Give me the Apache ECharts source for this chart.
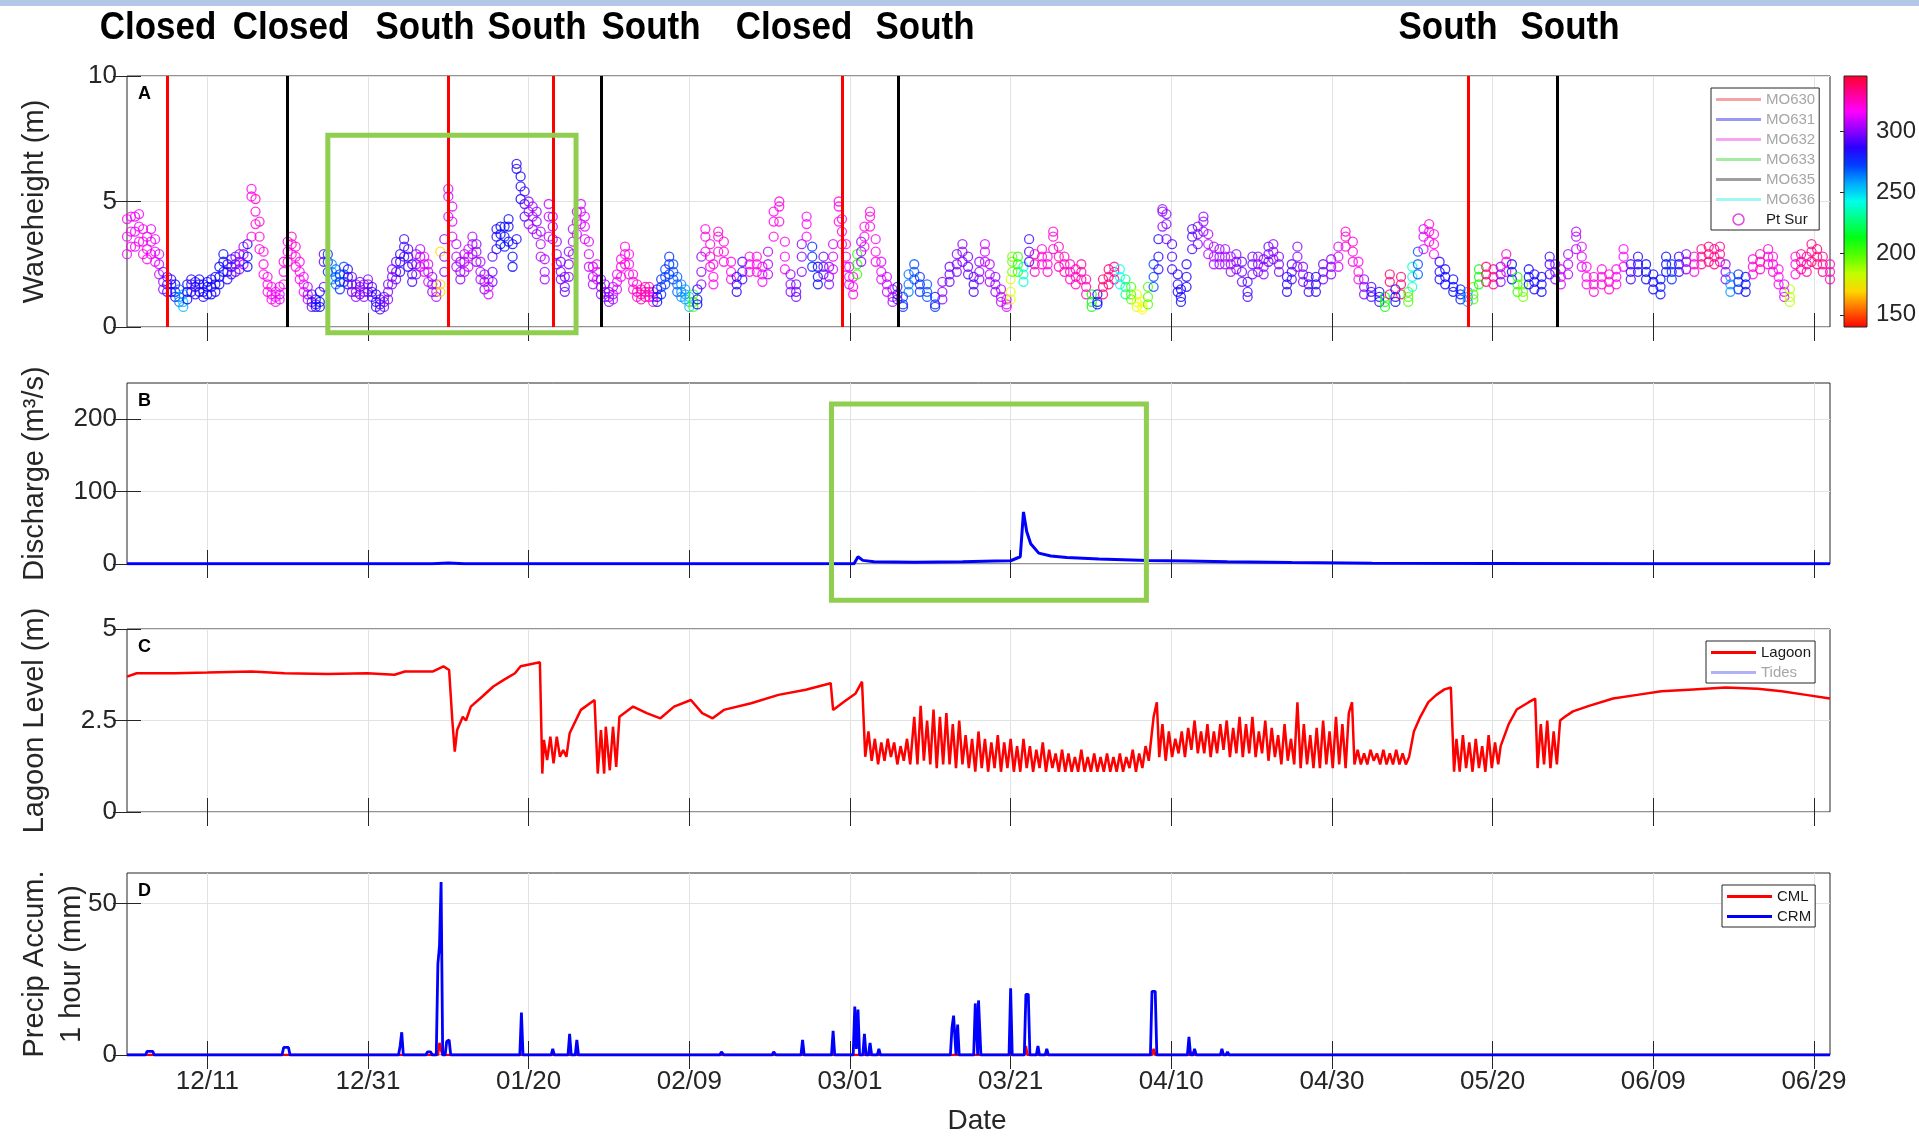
<!DOCTYPE html>
<html>
<head>
<meta charset="utf-8">
<script src="https://cdn.jsdelivr.net/npm/echarts@6/dist/echarts.min.js"></script>
<style>
html,body{margin:0;padding:0;background:#fff;}
#chart{width:1919px;height:1136px;}
</style>
</head>
<body>
<div id="chart"></div>
<script>
// x values are days since 2016-12-01
const xTickDays = [10, 30, 50, 70, 90, 110, 130, 150, 170, 190, 210];
const xTickLabels = ['12/11', '12/31', '01/20', '02/09', '03/01', '03/21', '04/10', '04/30', '05/20', '06/09', '06/29'];
const yTicksWave = [0, 5, 10];
const yTicksDischarge = [0, 100, 200];
const yTicksLagoon = [0, 2.5, 5];
const yTicksPrecip = [0, 50];
const dirTicks = [150, 200, 250, 300];

// Mouth state events (day, line colour key) and the state labels written above panel A
const eventDays = [5, 20, 40, 53, 59, 89, 96, 167, 178];
const eventKinds = ['red', 'black', 'red', 'red', 'black', 'red', 'black', 'red', 'black'];
const stateLabels = ['Closed', 'Closed', 'South', 'South', 'South', 'Closed', 'South', 'South', 'South'];

// Highlighted periods: [day from, day to, value low, value high]
const boxWave = [25.0, 55.9, -0.23, 7.64];
const boxDischarge = [87.7, 126.9, -50, 221];

// Pt Sur buoy, per time step: [day, low, typical, high wave height (m), direction (deg)]
const waveObs = [
[0,2.9,3.6,4.3,315],[0.5,3.2,3.8,4.4,318],[1,3.2,3.8,4.4,312],[1.5,3.4,4.0,4.5,315],[2,2.9,3.4,3.9,318],
[2.5,2.7,3.1,3.6,320],[3,2.9,3.4,3.9,312],[3.5,2.6,3.0,3.5,315],[4,2.1,2.5,2.9,310],[4.5,1.5,1.8,2.2,300],
[5,1.4,1.7,2.0,290],[5.5,1.4,1.7,1.9,285],[6,1.2,1.4,1.7,280],[6.5,1.0,1.2,1.5,265],[7,0.8,1.0,1.3,255],
[7.5,1.1,1.4,1.7,280],[8,1.4,1.7,1.9,285],[8.5,1.3,1.6,1.8,290],[9,1.4,1.7,1.9,280],[9.5,1.2,1.4,1.7,285],
[10,1.3,1.6,1.8,280],[10.5,1.3,1.6,1.9,282],[11,1.4,1.7,2.0,285],[11.5,1.7,2.0,2.4,280],[12,2.2,2.6,2.9,278],
[12.5,1.9,2.2,2.5,285],[13,2.1,2.4,2.7,290],[13.5,2.2,2.5,2.8,295],[14,2.3,2.6,2.9,300],[14.5,2.5,2.9,3.2,305],
[15,2.4,2.8,3.3,280],[15.5,3.6,5.2,5.5,318],[16,4.1,4.6,5.1,320],[16.5,3.1,3.6,4.2,322],[17,2.1,2.5,3.0,318],
[17.5,1.4,1.7,2.0,320],[18,1.1,1.3,1.6,318],[18.5,1.0,1.2,1.4,315],[19,1.1,1.3,1.6,312],[19.5,1.7,2.2,2.6,318],
[20,2.6,3.0,3.4,320],[20.5,2.9,3.3,3.6,322],[21,2.4,2.8,3.2,320],[21.5,1.9,2.2,2.6,318],[22,1.4,1.7,2.0,315],
[22.5,1.1,1.3,1.6,305],[23,0.8,1.0,1.3,295],[23.5,0.8,0.9,1.1,285],[24,0.8,1.0,1.4,280],[24.5,1.6,2.6,2.9,295],
[25,2.2,2.6,2.9,275],[25.5,1.9,2.2,2.5,260],[26,1.7,2.0,2.3,265],[26.5,1.5,1.8,2.1,275],[27,1.8,2.1,2.4,270],
[27.5,1.7,2.0,2.3,285],[28,1.4,1.7,2.0,295],[28.5,1.2,1.4,1.7,300],[29,1.3,1.6,1.8,295],[29.5,1.2,1.4,1.7,300],
[30,1.4,1.7,1.9,300],[30.5,1.2,1.4,1.6,290],[31,0.8,1.0,1.3,285],[31.5,0.7,0.9,1.1,290],[32,0.8,1.0,1.2,295],
[32.5,1.1,1.4,1.7,298],[33,1.7,2.0,2.3,300],[33.5,1.9,2.2,2.6,295],[34,2.2,2.6,2.9,285],[34.5,2.8,3.2,3.5,290],
[35,2.4,2.8,3.1,290],[35.5,1.8,2.1,2.5,288],[36,2.1,2.5,2.9,300],[36.5,2.4,2.8,3.1,305],[37,2.2,2.5,2.8,315],
[37.5,1.8,2.2,2.5,310],[38,1.4,1.7,2.0,300],[38.5,1.2,1.4,1.7,305],[39,1.4,1.7,3.0,170],[39.5,2.2,2.8,3.5,300],
[40,4.4,5.2,5.5,310],[40.5,3.6,4.2,4.8,312],[41,2.4,2.8,3.3,305],[41.5,1.9,2.2,2.6,300],[42,2.2,2.6,2.9,305],
[42.5,2.4,2.8,3.1,310],[43,2.9,3.3,3.6,305],[43.5,2.6,3.0,3.3,300],[44,1.9,2.2,2.6,305],[44.5,1.5,1.8,2.1,300],
[45,1.3,1.6,1.9,310],[45.5,1.8,2.2,2.8,295],[46,3.1,3.6,3.9,285],[46.5,3.3,3.7,4.0,280],[47,3.2,3.6,4.0,278],
[47.5,3.4,4.0,4.3,282],[48,2.4,2.8,3.3,280],[48.5,3.5,6.3,6.5,285],[49,5.1,5.6,6.0,282],[49.5,4.4,4.9,5.4,290],
[50,4.1,4.6,5.0,300],[50.5,3.9,4.4,4.8,305],[51,3.7,4.2,4.6,300],[51.5,2.8,3.3,3.8,305],[52,1.9,2.2,2.7,305],
[52.5,3.6,4.4,4.9,308],[53,3.5,4.0,4.4,305],[53.5,2.5,2.9,3.4,300],[54,1.9,2.2,2.6,298],[54.5,1.4,1.6,2.0,295],
[55,2.0,2.5,3.0,300],[55.5,2.9,3.4,3.9,305],[56,3.7,4.2,4.6,308],[56.5,4.1,4.6,4.9,310],[57,3.5,4.0,4.4,312],
[57.5,2.4,2.9,3.4,310],[58,1.7,2.0,2.4,305],[58.5,1.9,2.2,2.5,315],[59,1.3,1.6,1.9,300],[59.5,1.2,1.4,1.7,300],
[60,1.0,1.2,1.4,298],[60.5,1.1,1.3,1.6,305],[61,1.5,1.8,2.1,312],[61.5,2.0,2.4,2.7,318],[62,2.5,2.9,3.2,320],
[62.5,2.1,2.5,2.9,318],[63,1.5,1.8,2.1,320],[63.5,1.2,1.4,1.7,322],[64,1.1,1.3,1.5,325],[64.5,1.2,1.4,1.6,328],
[65,1.2,1.4,1.6,325],[65.5,1.0,1.2,1.4,320],[66,1.0,1.2,1.5,280],[66.5,1.3,1.6,1.9,275],[67,1.7,2.0,2.3,272],
[67.5,2.1,2.5,2.8,275],[68,1.9,2.2,2.5,270],[68.5,1.4,1.7,2.0,268],[69,1.2,1.4,1.7,262],[69.5,1.1,1.3,1.5,260],
[70,0.8,1.0,1.2,255],[70.5,0.8,1.0,1.3,200],[71,0.9,1.1,1.5,280],[71.5,1.7,2.2,2.8,300],[72,3.0,3.6,3.9,318],
[72.6,2.4,2.8,3.3,320],[73,1.7,2.0,2.5,318],[73.6,3.0,3.6,3.8,322],[74.3,2.6,3.0,3.4,320],[75.2,1.9,2.2,2.6,318],
[75.9,1.4,1.7,2.0,285],[76.6,1.9,2.2,2.6,290],[77.5,2.2,2.5,2.8,318],[78.4,2.2,2.5,2.8,320],[79.1,1.8,2.1,2.4,315],
[79.8,2.1,2.5,3.0,305],[80.5,3.6,4.2,4.6,318],[81.2,4.2,4.8,5.0,320],[81.9,2.3,2.8,3.4,318],[82.6,1.4,1.7,2.1,300],
[83.3,1.2,1.4,1.7,295],[84,2.2,2.8,3.3,300],[84.6,3.6,4.1,4.4,315],[85.3,2.4,2.8,3.2,275],[86,1.7,2.0,2.4,280],
[86.7,2.1,2.4,2.8,295],[87.4,1.7,2.0,2.4,300],[87.9,2.3,2.8,3.3,310],[88.6,4.2,4.8,5.0,318],[89,3.3,3.8,4.3,320],
[89.5,2.4,2.8,3.3,318],[89.9,1.7,2.0,2.4,312],[90.4,1.3,1.6,2.0,320],[90.9,2.1,2.5,2.9,205],[91.4,2.6,3.0,3.4,300],
[91.8,3.2,3.6,4.0,318],[92.5,4.0,4.4,4.6,320],[93.2,2.6,3.0,3.5,318],[93.9,1.9,2.2,2.6,312],[94.6,1.4,1.7,2.0,308],
[95.3,1.0,1.2,1.5,305],[95.9,1.1,1.3,1.6,290],[96.6,0.8,0.9,1.2,275],[97.3,1.4,1.7,2.1,265],[98,1.9,2.2,2.5,270],
[98.7,1.4,1.7,2.0,275],[99.6,1.2,1.4,1.7,270],[100.6,0.8,0.9,1.2,275],[101.5,1.1,1.4,1.8,300],[102.4,1.8,2.1,2.4,295],
[103.3,2.2,2.5,2.9,298],[104,2.6,3.0,3.3,300],[104.7,2.1,2.4,2.8,295],[105.4,1.4,1.7,2.0,290],[106.1,1.9,2.2,2.6,300],
[106.8,2.6,3.0,3.3,310],[107.4,1.8,2.1,2.5,305],[108.1,1.4,1.7,2.0,300],[108.8,1.0,1.2,1.5,305],[109.5,0.8,0.9,1.1,310],
[110,1.1,1.4,1.9,180],[110.2,2.2,2.6,2.8,195],[110.9,2.2,2.5,2.8,205],[111.6,1.8,2.1,2.4,240],[112.3,2.6,3.0,3.5,290],
[113,2.2,2.5,2.9,325],[113.9,2.5,2.8,3.1,322],[114.6,2.2,2.5,2.8,320],[115.3,3.1,3.6,3.8,322],[116,2.4,2.8,3.2,325],
[116.7,2.2,2.5,2.8,325],[117.4,1.9,2.2,2.5,322],[118.1,1.7,2.0,2.3,325],[118.8,1.9,2.2,2.5,328],[119.4,1.3,1.6,1.9,325],
[120.1,0.8,1.0,1.3,210],[120.8,0.9,1.0,1.3,280],[121.5,1.3,1.6,1.9,335],[122.2,1.7,2.0,2.3,335],[122.9,1.9,2.2,2.4,330],
[123.6,1.7,2.0,2.3,245],[124.3,1.3,1.6,1.9,230],[125,1.1,1.3,1.6,200],[125.7,0.8,1.0,1.3,180],[126.4,0.7,0.8,1.0,175],
[127.1,0.9,1.2,1.6,200],[127.8,1.6,2.0,2.5,270],[128.4,2.3,2.8,3.5,285],[128.9,4.0,4.6,4.7,300],[129.4,3.5,4.1,4.5,300],
[130.1,2.3,2.8,3.3,290],[130.8,1.4,1.7,2.1,285],[131.2,1.0,1.2,1.5,282],[131.9,1.6,2.0,2.5,285],[132.6,3.1,3.6,3.9,290],
[133.3,3.3,3.7,4.0,298],[134,3.8,4.2,4.4,300],[134.6,2.9,3.3,3.7,305],[135.3,2.5,2.8,3.2,305],[136,2.5,2.8,3.1,300],
[136.7,2.5,2.8,3.1,305],[137.4,2.2,2.5,2.8,302],[138.1,2.3,2.6,2.9,300],[138.8,1.8,2.2,2.6,295],[139.5,1.2,1.4,1.8,290],
[140.1,2.1,2.5,2.8,295],[140.8,2.2,2.5,2.8,300],[141.5,2.1,2.4,2.7,300],[142.1,2.6,2.9,3.2,295],[142.7,2.7,3.0,3.3,300],
[143.4,2.2,2.5,2.8,298],[144.4,1.4,1.7,2.0,285],[145,1.9,2.2,2.5,290],[145.7,2.4,2.8,3.2,300],[146.4,1.8,2.1,2.4,298],
[147.1,1.4,1.7,2.0,290],[148,1.4,1.7,2.0,285],[148.9,1.9,2.2,2.5,295],[149.9,2.1,2.4,2.7,300],[150.8,2.4,2.8,3.2,310],
[151.7,3.2,3.6,3.8,322],[152.6,2.6,3.0,3.4,320],[153.3,1.9,2.2,2.6,318],[154,1.3,1.6,1.9,300],[154.9,1.2,1.4,1.6,290],
[155.9,1.0,1.2,1.4,285],[156.6,0.8,1.0,1.2,210],[157.2,1.3,1.8,2.1,335],[157.9,1.0,1.2,1.5,280],[158.6,1.3,1.7,2.0,335],
[159.5,1.0,1.2,1.4,200],[160,1.6,2.0,2.4,240],[160.7,2.1,2.5,3.0,270],[161.4,3.1,3.6,3.9,310],[162.1,3.4,3.8,4.1,320],
[162.7,2.9,3.3,3.7,318],[163.4,1.9,2.2,2.6,285],[164.1,1.7,2.0,2.3,282],[165.1,1.4,1.6,1.9,280],[166,1.1,1.3,1.5,278],
[166.9,1.0,1.2,1.4,260],[167.6,1.1,1.3,1.6,200],[168.3,1.7,2.0,2.3,210],[169.2,1.8,2.1,2.4,335],[170.1,1.7,2.0,2.3,332],
[171,1.8,2.1,2.4,300],[171.7,2.2,2.6,2.9,322],[172.4,1.9,2.2,2.5,280],[173.1,1.4,1.7,2.0,205],[173.8,1.2,1.4,1.7,195],
[174.5,1.7,2.0,2.3,280],[175.2,1.5,1.8,2.1,285],[176.1,1.4,1.7,2.0,280],[177.1,2.1,2.5,2.8,290],[177.8,1.9,2.2,2.5,300],
[178.5,1.7,2.0,2.3,310],[179.4,2.1,2.5,2.9,305],[180.4,3.1,3.6,3.8,305],[181.1,2.4,2.8,3.2,312],[181.7,1.7,2.0,2.4,318],
[182.6,1.4,1.7,2.0,322],[183.6,1.7,2.0,2.3,320],[184.5,1.5,1.8,2.1,322],[185.4,1.7,2.0,2.3,318],[186.3,2.4,2.8,3.1,315],
[187.2,1.9,2.2,2.5,290],[188.1,2.2,2.5,2.8,285],[189.1,1.9,2.2,2.5,280],[190,1.5,1.8,2.1,282],[190.9,1.3,1.6,1.9,278],
[191.6,2.2,2.5,2.8,280],[192.3,1.9,2.2,2.5,275],[193.2,2.2,2.5,2.8,285],[194.1,2.3,2.6,2.9,300],[195.1,2.2,2.5,2.8,320],
[196,2.5,2.8,3.1,330],[196.9,2.6,2.9,3.2,335],[197.6,2.5,2.8,3.1,332],[198.3,2.6,2.9,3.2,330],[199,1.9,2.2,2.5,300],
[199.6,1.4,1.7,2.0,260],[200.6,1.5,1.8,2.1,275],[201.5,1.4,1.7,2.0,280],[202.4,2.1,2.4,2.7,320],[203.3,2.3,2.6,2.9,325],
[204.3,2.5,2.8,3.1,322],[204.9,2.2,2.5,2.8,320],[205.6,1.7,2.0,2.3,318],[206.3,1.2,1.4,1.7,310],[207,1.0,1.2,1.5,185],
[207.7,2.1,2.5,2.8,320],[208.4,2.3,2.6,2.9,330],[209.1,2.2,2.5,2.8,328],[209.7,2.6,3.0,3.3,332],[210.4,2.5,2.8,3.1,335],
[211.1,2.2,2.5,2.8,330],[212,1.9,2.2,2.5,325]
];

// River discharge (m3/s)
const discharge = [
[0,0.3],[38,0.3],[40,1.5],[42,0.5],[60,0.3],[89,0.3],[90.5,0.5],[91,10],[91.6,5],[93,3],[98,2.5],[104,3],[108,4],
[110,4.5],[111.2,10],[111.6,72],[112,45],[112.5,28],[113.5,15],[115,11],[117,9],[121,7],[127,5],[132,4],[137,3],
[145,2],[155,1.2],[170,0.8],[190,0.5],[212,0.3]
];

// Lagoon water level (m)
const lagoon = [
[0,3.70],[1.2,3.79],[6,3.79],[10,3.81],[15.5,3.84],[19.6,3.79],[25,3.77],[29.9,3.79],[33.3,3.75],[34.6,3.84],[38.1,3.84],
[39.4,3.98],[40.1,3.88],[40.5,2.5],[40.8,1.65],[41.1,2.24],[41.8,2.6],[42.2,2.5],[42.8,2.88],[44.2,3.15],[45.6,3.43],
[46.9,3.61],[48.3,3.79],[49,3.98],[51.4,4.09],[51.7,1.05],[51.9,1.97],[52.3,1.42],[52.7,2.06],[53.1,1.33],[53.5,2.06],
[53.9,1.51],[54.3,1.69],[54.7,1.51],[55.1,2.15],[56.5,2.79],[58.2,3.06],[58.6,1.05],[59,2.24],[59.4,1.05],[59.6,2.33],
[60.1,1.14],[60.5,2.33],[60.9,1.23],[61.3,2.6],[63,2.88],[64.7,2.7],[66.4,2.56],[68.1,2.88],[70.2,3.06],[71.6,2.7],
[72.9,2.56],[74.3,2.79],[77.7,2.97],[81.1,3.2],[84.5,3.34],[87.6,3.52],[87.9,2.79],[89.3,3.02],[90.7,3.24],[91.5,3.56],
[91.9,1.51],[92.3,2.2],[92.7,1.4],[93.1,2.0],[93.5,1.3],[93.9,1.9],[94.3,1.4],[94.7,2.0],[95.1,1.5],[95.5,1.9],[95.9,1.3],
[96.3,1.8],[96.7,1.4],[97.1,2.0],[97.5,1.3],[98,2.6],[98.4,1.3],[98.8,2.9],[99.2,1.4],[99.6,2.5],[100,1.3],[100.4,2.8],
[100.8,1.2],[101.2,2.6],[101.6,1.3],[102,2.7],[102.4,1.3],[102.8,2.4],[103.2,1.2],[103.6,2.5],[104,1.3],[104.4,2.1],
[104.8,1.2],[105.2,2.0],[105.6,1.1],[106,2.2],[106.4,1.2],[106.8,2.0],[107.2,1.1],[107.6,1.9],[108,1.2],[108.4,2.1],
[108.8,1.1],[109.2,1.9],[109.6,1.2],[110,2.0],[110.4,1.1],[110.8,1.8],[111.2,1.1],[111.6,2.0],[112,1.2],[112.4,1.8],
[112.8,1.1],[113.2,1.7],[113.6,1.2],[114,1.9],[114.4,1.1],[114.8,1.7],[115.2,1.2],[115.6,1.6],[116,1.1],[116.4,1.7],
[116.8,1.1],[117.2,1.6],[117.6,1.1],[118,1.5],[118.4,1.1],[118.8,1.7],[119.2,1.1],[119.6,1.5],[120,1.1],[120.4,1.6],
[120.8,1.1],[121.2,1.5],[121.6,1.1],[122,1.6],[122.4,1.1],[122.8,1.5],[123.2,1.1],[123.6,1.6],[124,1.1],[124.4,1.5],
[124.8,1.2],[125.2,1.7],[125.6,1.1],[126,1.6],[126.4,1.2],[126.8,1.8],[127.2,1.4],[127.8,2.6],[128.2,3.0],[128.5,1.5],
[128.9,2.4],[129.3,1.4],[129.7,2.2],[130.1,1.5],[130.5,2.0],[130.9,1.6],[131.3,2.2],[131.7,1.5],[132.1,2.3],[132.5,1.7],
[132.9,2.5],[133.3,1.6],[133.7,2.2],[134.1,1.6],[134.5,2.4],[134.9,1.5],[135.3,2.2],[135.7,1.6],[136.1,2.4],[136.5,1.7],
[136.9,2.5],[137.3,1.5],[137.7,2.3],[138.1,1.6],[138.5,2.6],[138.9,1.5],[139.3,2.4],[139.7,1.6],[140.1,2.6],[140.5,1.5],
[140.9,2.2],[141.3,1.6],[141.7,2.5],[142.1,1.4],[142.5,2.3],[142.9,1.5],[143.3,2.1],[143.7,1.3],[144.1,2.4],[144.5,1.4],
[144.9,2.0],[145.3,1.3],[145.7,3.0],[146.1,1.2],[146.5,2.4],[146.9,1.3],[147.3,2.1],[147.7,1.2],[148.1,2.3],[148.5,1.2],
[148.9,2.5],[149.3,1.3],[149.7,2.2],[150.1,1.2],[150.5,2.6],[150.9,1.3],[151.3,2.4],[151.7,1.2],[152.1,2.7],[152.5,3.0],
[152.8,1.3],[153.2,1.7],[153.6,1.3],[154,1.6],[154.4,1.3],[154.8,1.7],[155.2,1.4],[155.6,1.6],[156,1.3],[156.4,1.7],
[156.8,1.3],[157.2,1.6],[157.6,1.3],[158,1.7],[158.4,1.3],[158.8,1.6],[159.2,1.3],[159.6,1.5],[160.2,2.2],[161,2.6],
[162,3.0],[163,3.2],[164,3.35],[164.8,3.4],[165.2,1.1],[165.5,2.0],[165.9,1.1],[166.3,2.1],[166.7,1.2],[167.1,1.9],
[167.5,1.1],[167.9,2.0],[168.3,1.2],[168.7,1.8],[169.1,1.1],[169.5,2.1],[169.9,1.2],[170.3,1.9],[170.7,1.3],[171,1.8],
[172,2.4],[173,2.8],[174.5,3.0],[175.3,3.1],[175.6,1.2],[176,2.4],[176.4,1.3],[176.8,2.5],[177.2,1.2],[177.6,2.2],
[178,1.3],[178.4,2.5],[179,2.6],[180,2.75],[182,2.9],[185,3.1],[188,3.2],[191,3.3],[195,3.35],[199,3.4],[203,3.37],
[206,3.3],[209,3.2],[212,3.1]
];

// Hourly precipitation (mm) at the two gauges
const precipCML = [
[0,0],[19.5,0],[19.7,0.5],[19.9,0],[38.7,0],[38.9,4],[39.1,1.5],[39.3,0],[111.7,0],[111.9,3],[112.1,0],
[127.6,0],[127.8,2],[128,0],[132.3,0],[132.5,1],[132.7,0],[212,0]
];
const precipCRM = [
[0,0],[2.3,0],[2.5,1.2],[3.2,1.2],[3.4,0],[19.3,0],[19.5,2.5],[20.1,2.5],[20.3,0],[33.8,0],[34.0,3],[34.2,7.5],[34.4,0],
[37.2,0],[37.4,1],[37.8,1],[38.0,0],[38.5,0],[38.7,30],[38.9,36],[39.1,57],[39.3,0],[39.6,0],[39.8,4.5],[40.1,5],[40.3,0],
[48.9,0],[49.1,14],[49.3,0],[52.8,0],[53.0,2],[53.2,0],[54.9,0],[55.1,7],[55.3,0],[55.8,0],[56.0,5],[56.2,0],
[73.8,0],[74.0,1],[74.3,0],[80.3,0],[80.5,1],[80.8,0],[83.9,0],[84.1,5],[84.3,0],[87.7,0],[87.9,8],[88.1,0],
[90.4,0],[90.6,16],[90.8,2],[91.0,15],[91.2,0],[91.6,0],[91.8,7],[92.0,0],[92.3,0],[92.5,4],[92.7,0],[93.4,0],[93.6,2],[93.8,0],
[102.5,0],[102.7,9],[102.9,13],[103.2,0],[103.4,10],[103.6,0],[105.4,0],[105.6,17],[105.9,0],[106.0,18],[106.3,0],
[109.8,0],[110.0,22],[110.2,0],[111.7,0],[111.9,20],[112.2,20],[112.4,0],[113.2,0],[113.4,3],[113.6,0],[114.3,0],[114.5,2],[114.7,0],
[127.4,0],[127.6,21],[128.0,21],[128.2,0],[132.0,0],[132.2,6],[132.4,0],[132.7,0],[132.9,2],[133.1,0],
[136.1,0],[136.3,2],[136.5,0],[136.8,0],[137.0,1],[137.2,0],[173.4,0],[173.6,0.6],[173.8,0],[212,0]
];

// ---------------------------------------------------------------------------
const FONT = '"Liberation Sans", Arial, Helvetica, sans-serif';
const INK = '#262626';
const GRIDLINE = '#e2e2e2';
const X_MIN = 0, X_MAX = 212;
const DIR_MIN = 140, DIR_MAX = 345;

// hsv-style colour scale for wave direction
function dirColor(v) {
  const t = Math.max(0, Math.min(1, (v - DIR_MIN) / (DIR_MAX - DIR_MIN)));
  return 'hsl(' + (t * 350).toFixed(1) + ',100%,50%)';
}

const panels = [
  {top: 76, height: 251, min: 0, max: 10, ticks: yTicksWave},
  {top: 383, height: 181, min: 0, max: 250, ticks: yTicksDischarge},
  {top: 629, height: 183, min: 0, max: 5, ticks: yTicksLagoon},
  {top: 873, height: 182, min: 0, max: 60, ticks: yTicksPrecip}
];
const PLOT_LEFT = 127, PLOT_WIDTH = 1703;

const grid = [], xAxis = [], yAxis = [];
panels.forEach((p, g) => {
  grid.push({left: PLOT_LEFT, top: p.top, width: PLOT_WIDTH, height: p.height,
    show: true, borderColor: INK, borderWidth: 1, backgroundColor: 'transparent'});
  xAxis.push({
    type: 'value', gridIndex: g, min: X_MIN, max: X_MAX, position: 'bottom',
    axisLine: {show: false},
    axisTick: {show: true, inside: true, length: 14, customValues: xTickDays, lineStyle: {color: INK}},
    axisLabel: {show: g === 3, customValues: xTickDays, fontSize: 26, fontFamily: FONT, color: INK, margin: 14,
      formatter: v => { const i = xTickDays.indexOf(Math.round(v)); return i >= 0 ? xTickLabels[i] : ''; }},
    splitLine: {show: true, lineStyle: {color: GRIDLINE, width: 1}}
  });
  xAxis.push({
    type: 'value', gridIndex: g, min: X_MIN, max: X_MAX, position: 'top',
    axisLine: {show: false},
    axisTick: {show: true, inside: true, length: 14, customValues: xTickDays, lineStyle: {color: INK}},
    axisLabel: {show: false}, splitLine: {show: false}
  });
  yAxis.push({
    type: 'value', gridIndex: g, min: p.min, max: p.max, position: 'left',
    axisLine: {show: false},
    axisTick: {show: true, inside: true, length: 14, customValues: p.ticks, lineStyle: {color: INK}},
    axisLabel: {customValues: p.ticks, fontSize: 26, fontFamily: FONT, color: INK, margin: 10},
    splitLine: {show: true, lineStyle: {color: GRIDLINE, width: 1}}
  });
  yAxis.push({
    type: 'value', gridIndex: g, min: p.min, max: p.max, position: 'right',
    axisLine: {show: false},
    axisTick: {show: true, inside: true, length: 14, customValues: p.ticks, lineStyle: {color: INK}},
    axisLabel: {show: false}, splitLine: {show: false}
  });
});
// colour bar axis
const CBAR = {left: 1844, top: 76, width: 23, height: 251};
grid.push({left: CBAR.left, top: CBAR.top, width: CBAR.width, height: CBAR.height, show: false});
xAxis.push({type: 'value', gridIndex: 4, show: false, min: 0, max: 1});
yAxis.push({
  type: 'value', gridIndex: 4, min: DIR_MIN, max: DIR_MAX, position: 'right',
  axisLine: {show: false},
  axisTick: {show: true, inside: true, length: 4, customValues: dirTicks, lineStyle: {color: INK}},
  axisLabel: {customValues: dirTicks, fontSize: 24, fontFamily: FONT, color: INK, margin: 10},
  splitLine: {show: false}
});

const faded = {
  MO630: 'rgba(235,90,90,0.55)', MO631: 'rgba(70,70,225,0.55)', MO632: 'rgba(240,90,230,0.55)',
  MO633: 'rgba(90,220,90,0.55)', MO635: 'rgba(80,80,80,0.55)', MO636: 'rgba(90,235,235,0.55)'
};
const LINE_ICON = 'path://M0,0H45V3H0Z';

// each time step contributes its low, typical and high readings as circles
const wavePoints = [];
waveObs.forEach(([d, lo, mid, hi, dir]) => {
  const c = dirColor(dir);
  [lo, mid, hi].forEach(h => wavePoints.push({value: [d, h, dir], itemStyle: {borderColor: c}}));
});

const series = [];
Object.keys(faded).forEach(name => {
  series.push({name, type: 'line', xAxisIndex: 0, yAxisIndex: 0, data: [], symbol: 'none',
    lineStyle: {color: faded[name], width: 3}, itemStyle: {color: faded[name]}});
});
series.push({
  name: 'Pt Sur', type: 'scatter', xAxisIndex: 0, yAxisIndex: 0, symbol: 'circle', symbolSize: 9,
  itemStyle: {color: 'rgba(0,0,0,0)', borderColor: '#d91ed9', borderWidth: 1.3},
  data: wavePoints, large: false,
  z: 3
});
series.push({
  name: 'mouth events', type: 'line', xAxisIndex: 0, yAxisIndex: 0, data: [], z: 5,
  markLine: {silent: true, symbol: ['none', 'none'], label: {show: false}, animation: false,
    data: eventDays.map((d, i) => ({xAxis: d, lineStyle: {color: eventKinds[i] === 'red' ? '#ff0000' : '#000000', width: 3, type: 'solid'}}))}
});
series.push({
  name: 'Discharge', type: 'line', xAxisIndex: 2, yAxisIndex: 2, data: discharge, symbol: 'none',
  lineStyle: {color: '#0000ff', width: 3}
});
series.push({
  name: 'Lagoon', type: 'line', xAxisIndex: 4, yAxisIndex: 4, data: lagoon, symbol: 'none',
  lineStyle: {color: '#ff0000', width: 2.5}, itemStyle: {color: '#ff0000'}
});
series.push({
  name: 'Tides', type: 'line', xAxisIndex: 4, yAxisIndex: 4, data: [], symbol: 'none',
  lineStyle: {color: 'rgba(80,80,235,0.45)', width: 3}, itemStyle: {color: 'rgba(80,80,235,0.45)'}
});
series.push({
  name: 'CML', type: 'line', xAxisIndex: 6, yAxisIndex: 6, data: precipCML, symbol: 'none',
  lineStyle: {color: '#ff0000', width: 2.5}, itemStyle: {color: '#ff0000'}
});
series.push({
  name: 'CRM', type: 'line', xAxisIndex: 6, yAxisIndex: 6, data: precipCRM, symbol: 'none',
  lineStyle: {color: '#0000ff', width: 2.8}, itemStyle: {color: '#0000ff'}
});

const legendBase = {
  orient: 'vertical', itemWidth: 45, itemHeight: 11, itemGap: 5, padding: [4, 4, 3, 5],
  borderColor: INK, borderWidth: 1, backgroundColor: '#fff', selectedMode: false,
  textStyle: {fontSize: 15, fontFamily: FONT, color: INK}
};
const lineItem = (name, color, grey) => ({name, icon: LINE_ICON, itemStyle: {color, borderWidth: 0},
  textStyle: {color: grey ? '#a6a6a6' : '#1a1a1a'}});

const legend = [
  Object.assign({}, legendBase, {left: 1711, top: 88, data: [
    ...Object.keys(faded).map(n => lineItem(n, faded[n], true)),
    {name: 'Pt Sur', icon: 'circle', itemStyle: {color: 'rgba(0,0,0,0)', borderColor: '#d91ed9', borderWidth: 1.5},
      textStyle: {color: '#1a1a1a'}}
  ]}),
  Object.assign({}, legendBase, {left: 1706, top: 641, data: [
    lineItem('Lagoon', '#ff0000', false), lineItem('Tides', 'rgba(80,80,235,0.45)', true)
  ]}),
  Object.assign({}, legendBase, {left: 1722, top: 885, data: [
    lineItem('CML', '#ff0000', false), lineItem('CRM', '#0000ff', false)
  ]})
];

const chart = echarts.init(document.getElementById('chart'), null, {renderer: 'canvas'});
chart.setOption({
  animation: false,
  backgroundColor: '#ffffff',
  textStyle: {fontFamily: FONT},
  grid, xAxis, yAxis, series, legend
});

// ---- annotations laid out around the plot areas ----
const graphics = [];
graphics.push({type: 'rect', id: 'topband', shape: {x: 0, y: 0, width: 1919, height: 6}, style: {fill: '#b4c7e7'}, silent: true});

const labelX = [158, 291, 425, 537, 651, 794, 925, 1448, 1570];
stateLabels.forEach((t, i) => graphics.push({
  type: 'text', x: labelX[i], y: 29, scaleX: 0.92, silent: true,
  style: {text: t, fill: '#000', font: 'bold 38px "Liberation Sans", Arial, sans-serif',
    align: 'center', verticalAlign: 'middle', textAlign: 'center', textVerticalAlign: 'middle'}
}));

['A', 'B', 'C', 'D'].forEach((t, g) => graphics.push({
  type: 'text', x: 138, y: panels[g].top + 9, silent: true,
  style: {text: t, fill: '#000', font: 'bold 18px ' + FONT, align: 'left', verticalAlign: 'top', textAlign: 'left', textVerticalAlign: 'top'}
}));

const yTitles = [
  {text: 'Waveheight (m)', x: 35, g: 0},
  {text: 'Discharge (m³/s)', x: 35, g: 1},
  {text: 'Lagoon Level (m)', x: 35, g: 2},
  {text: 'Precip Accum.\n1 hour (mm)', x: 53, g: 3}
];
yTitles.forEach(t => graphics.push({
  type: 'text', x: t.x, y: panels[t.g].top + panels[t.g].height / 2, rotation: Math.PI / 2, silent: true,
  style: {text: t.text, fill: INK, font: '29px ' + FONT, lineHeight: 37,
    align: 'center', verticalAlign: 'middle', textAlign: 'center', textVerticalAlign: 'middle'}
}));

graphics.push({
  type: 'text', x: 977, y: 1121, silent: true,
  style: {text: 'Date', fill: INK, font: '28px ' + FONT, align: 'center', verticalAlign: 'middle', textAlign: 'center', textVerticalAlign: 'middle'}
});

// colour bar
const stops = [];
for (let k = 0; k <= 14; k++) {
  const v = DIR_MIN + (DIR_MAX - DIR_MIN) * k / 14;
  stops.push({offset: k / 14, color: dirColor(v)});
}
graphics.push({
  type: 'rect', id: 'cbar', z: -1, silent: true,
  shape: {x: CBAR.left, y: CBAR.top, width: CBAR.width, height: CBAR.height},
  style: {fill: new echarts.graphic.LinearGradient(0, 1, 0, 0, stops), stroke: INK, lineWidth: 1}
});

// highlight boxes
[[boxWave, 0], [boxDischarge, 1]].forEach(([b, g], i) => {
  const p1 = chart.convertToPixel({xAxisIndex: 2 * g, yAxisIndex: 2 * g}, [b[0], b[3]]);
  const p2 = chart.convertToPixel({xAxisIndex: 2 * g, yAxisIndex: 2 * g}, [b[1], b[2]]);
  graphics.push({
    type: 'rect', id: 'focus' + i, z: 100, silent: true,
    shape: {x: p1[0], y: p1[1], width: p2[0] - p1[0], height: p2[1] - p1[1]},
    style: {fill: 'none', stroke: '#8fce4f', lineWidth: 5}
  });
});

chart.setOption({graphic: graphics});
</script>
</body>
</html>
